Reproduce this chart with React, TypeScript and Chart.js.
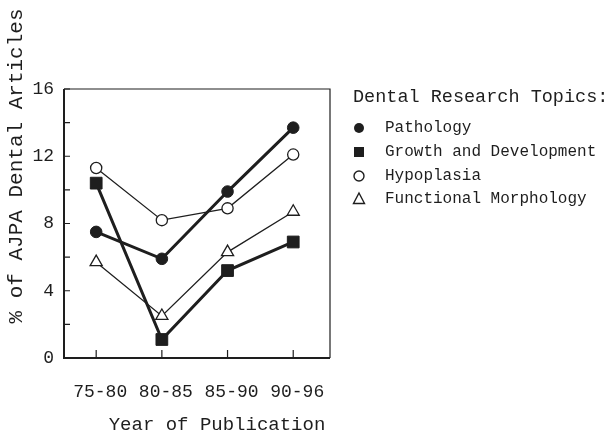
import { useEffect, useRef } from 'react';
import { Chart, registerables } from 'chart.js';
Chart.register(...registerables);

const categories = ['75-80', '80-85', '85-90', '90-96'];
const pathology = [7.5, 5.9, 9.9, 13.7];
const growth = [10.4, 1.1, 5.2, 6.9];
const hypoplasia = [11.3, 8.2, 8.9, 12.1];
const functionalMorph = [5.7, 2.5, 6.3, 8.7];
const yTickValues = [0, 2, 4, 6, 8, 10, 12, 14, 16];
const yLabelValues = [0, 4, 8, 12, 16];
const seriesNames = ['Pathology', 'Growth and Development', 'Hypoplasia', 'Functional Morphology'];
const legendTitle = 'Dental Research Topics:';
const xTitle = 'Year of Publication';
const yTitle = '% of AJPA Dental Articles';

const FONT = "'Liberation Mono', 'Courier New', monospace";
const INK = '#1e1e1e';

const toPts = (arr: number[]) => arr.map((v, i) => ({ x: i, y: v }));

function drawMarker(ctx: CanvasRenderingContext2D, kind: string, x: number, y: number) {
  ctx.save();
  ctx.strokeStyle = INK;
  ctx.fillStyle = INK;
  ctx.lineWidth = 1.4;
  ctx.beginPath();
  if (kind === 'dot') {
    ctx.arc(x, y, 5, 0, Math.PI * 2);
    ctx.fill();
  } else if (kind === 'square') {
    ctx.rect(x - 5, y - 5, 10, 10);
    ctx.fill();
  } else if (kind === 'ring') {
    ctx.arc(x, y, 5, 0, Math.PI * 2);
    ctx.stroke();
  } else {
    ctx.moveTo(x, y - 6);
    ctx.lineTo(x + 5.5, y + 4.5);
    ctx.lineTo(x - 5.5, y + 4.5);
    ctx.closePath();
    ctx.stroke();
  }
  ctx.restore();
}

const decorPlugin = {
  id: 'decor',
  afterDraw(chart: any) {
    const ctx: CanvasRenderingContext2D = chart.ctx;
    const { left, right, top, bottom } = chart.chartArea;
    const xs = chart.scales.x;
    const ys = chart.scales.y;
    ctx.save();
    ctx.strokeStyle = INK;
    // frame
    ctx.lineWidth = 1.2;
    ctx.beginPath();
    ctx.moveTo(left, top);
    ctx.lineTo(right, top);
    ctx.lineTo(right, bottom);
    ctx.stroke();
    ctx.lineWidth = 2;
    ctx.beginPath();
    ctx.moveTo(left, top);
    ctx.lineTo(left, bottom);
    ctx.lineTo(right, bottom);
    ctx.stroke();
    // inside ticks
    ctx.lineWidth = 1.2;
    ctx.beginPath();
    yTickValues.forEach((v) => {
      const py = ys.getPixelForValue(v);
      ctx.moveTo(left, py);
      ctx.lineTo(left + 6, py);
    });
    categories.forEach((_, i) => {
      const px = xs.getPixelForValue(i);
      ctx.moveTo(px, bottom);
      ctx.lineTo(px, bottom - 8);
    });
    ctx.stroke();

    ctx.fillStyle = INK;
    // y title
    ctx.save();
    ctx.translate(16, 166);
    ctx.rotate(-Math.PI / 2);
    ctx.font = `21px ${FONT}`;
    ctx.textAlign = 'center';
    ctx.textBaseline = 'middle';
    ctx.fillText(yTitle, 0, 0);
    ctx.restore();
    // x title
    ctx.font = `19px ${FONT}`;
    ctx.textAlign = 'center';
    ctx.textBaseline = 'middle';
    ctx.fillText(xTitle, 217, 425);

    // legend
    ctx.textAlign = 'left';
    ctx.font = `18.5px ${FONT}`;
    ctx.fillText(legendTitle, 353, 97);
    const kinds = ['dot', 'square', 'ring', 'tri'];
    const ly = [128, 152, 176, 199];
    ctx.font = `16px ${FONT}`;
    seriesNames.forEach((name, i) => {
      drawMarker(ctx, kinds[i], 359, ly[i]);
      ctx.fillStyle = INK;
      ctx.fillText(name, 385, ly[i]);
    });
    ctx.restore();
  },
};

export default function App() {
  const ref = useRef<HTMLCanvasElement>(null);
  useEffect(() => {
    if (!ref.current) return;
    const chart = new Chart(ref.current, {
      type: 'line',
      data: {
        datasets: [
          {
            label: seriesNames[2],
            data: toPts(hypoplasia),
            borderColor: INK,
            borderWidth: 1.3,
            pointStyle: 'circle',
            pointRadius: 5.6,
            pointBackgroundColor: '#ffffff',
            pointBorderColor: INK,
            pointBorderWidth: 1.3,
          },
          {
            label: seriesNames[3],
            data: toPts(functionalMorph),
            borderColor: INK,
            borderWidth: 1.3,
            pointStyle: 'triangle',
            pointRadius: 7,
            pointBackgroundColor: '#ffffff',
            pointBorderColor: INK,
            pointBorderWidth: 1.3,
          },
          {
            label: seriesNames[0],
            data: toPts(pathology),
            borderColor: INK,
            borderWidth: 3,
            pointStyle: 'circle',
            pointRadius: 5.8,
            pointBackgroundColor: INK,
            pointBorderColor: INK,
            pointBorderWidth: 1,
          },
          {
            label: seriesNames[1],
            data: toPts(growth),
            borderColor: INK,
            borderWidth: 3,
            pointStyle: 'rect',
            pointRadius: 8.3,
            pointBackgroundColor: INK,
            pointBorderColor: INK,
            pointBorderWidth: 1,
          },
        ],
      },
      options: {
        animation: false,
        responsive: false,
        devicePixelRatio: 1,
        layout: { padding: { top: 89, right: 285, bottom: 0, left: 0 } },
        plugins: { legend: { display: false }, tooltip: { enabled: false } },
        elements: { line: { tension: 0 } },
        scales: {
          x: {
            type: 'linear',
            min: -0.49,
            max: 3.56,
            afterBuildTicks: (s: any) => {
              s.ticks = categories.map((_, i) => ({ value: i }));
            },
            afterFit: (s: any) => {
              s.height = 79;
            },
            grid: { display: false },
            border: { display: false },
            ticks: {
              callback: (v: any) => categories[v] ?? '',
              font: { family: FONT, size: 18 },
              color: INK,
              padding: 15,
              labelOffset: 4,
              maxRotation: 0,
              autoSkip: false,
            },
          },
          y: {
            min: 0,
            max: 16,
            afterBuildTicks: (s: any) => {
              s.ticks = yTickValues.map((v) => ({ value: v }));
            },
            afterFit: (s: any) => {
              s.width = 64;
            },
            grid: { display: false },
            border: { display: false },
            ticks: {
              callback: (v: any) => (yLabelValues.includes(v) ? String(v) : ''),
              font: { family: FONT, size: 18 },
              color: INK,
              padding: 2,
              autoSkip: false,
            },
          },
        },
      },
      plugins: [decorPlugin],
    });
    return () => chart.destroy();
  }, []);
  return (
    <div style={{ position: 'fixed', left: 0, top: 0, width: 615, height: 437, background: '#fff' }}>
      <canvas ref={ref} width={615} height={437} />
    </div>
  );
}
